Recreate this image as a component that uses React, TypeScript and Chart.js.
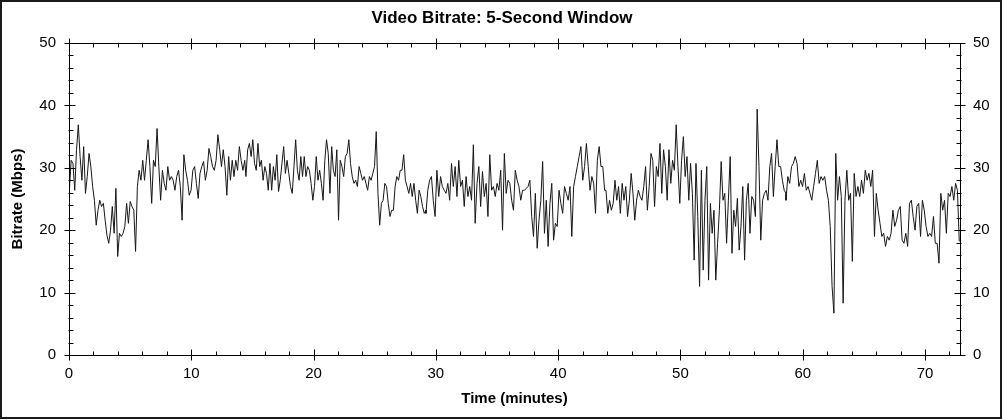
import React, { useEffect, useRef } from "react";
import { Chart, registerables } from "chart.js";

Chart.register(...registerables);

const TITLE = "Video Bitrate: 5-Second Window";
const X_LABEL = "Time (minutes)";
const Y_LABEL = "Bitrate (Mbps)";
const FONT = "'Liberation Sans', Arial, sans-serif";

const X_MIN = 0;
const X_MAX = 72.86;
const Y_MIN = 0;
const Y_MAX = 50;
const X_MAJOR = 10;
const X_MINOR = 2;
const Y_MAJOR = 10;
const Y_MINOR = 2;

// time span (minutes) covered by each run of readings
const SEGMENT_START_MIN = [0.03, 14.47, 29.19, 43.91, 58.63];
const SEGMENT_END_MIN = [14.37, 29.19, 43.8, 58.63, 72.8];

const BITRATE_SEG1 = [
  26.4, 31.2, 30.7, 26.4, 32.9, 36.9, 31.8, 28.0, 33.4, 25.9,
  28.6, 32.3, 30.2, 27.0, 24.8, 20.8, 23.2, 24.8, 23.8, 24.3,
  21.6, 19.2, 17.9, 20.0, 23.8, 19.5, 26.7, 15.8, 19.5, 19.0,
  19.5, 20.6, 24.3, 21.1, 24.6, 23.8, 23.2, 16.6, 27.0, 29.6,
  28.0, 31.2, 28.0, 31.2, 34.5, 30.2, 24.3, 31.2, 30.2, 36.3,
  30.2, 24.8, 29.6, 27.5, 26.4, 30.2, 28.0, 28.6, 28.0, 26.4,
  28.6, 29.6, 27.0, 21.6, 32.1, 29.6, 28.0, 25.6, 26.4, 29.6,
  30.2, 27.5, 25.1, 29.1, 30.2, 31.0, 28.0, 29.6, 33.1, 31.8,
  30.2, 29.6, 31.2, 35.3, 32.9, 30.2, 32.9, 30.2, 25.6, 31.8,
  28.0, 31.2, 28.6, 31.2, 29.6, 33.4, 31.2, 29.6, 31.2,
];

const BITRATE_SEG2 = [
  28.6, 32.9, 33.9, 31.8, 34.5, 30.7, 29.6, 33.9, 30.2, 31.2,
  28.0, 30.2, 29.1, 26.4, 30.7, 26.4, 30.2, 28.0, 32.1, 26.2,
  28.0, 30.7, 33.4, 29.1, 31.2, 29.1, 27.0, 25.9, 30.2, 34.5,
  29.6, 28.0, 31.8, 28.6, 31.8, 28.6, 30.2, 29.6, 27.5, 24.8,
  27.0, 31.8, 28.0, 29.6, 27.5, 24.8, 31.2, 34.5, 32.3, 25.9,
  33.4, 29.6, 28.6, 32.9, 21.6, 31.2, 30.2, 28.6, 31.8, 32.3,
  34.5, 30.7, 28.6, 27.5, 28.0, 27.0, 30.2, 29.1, 28.0, 28.6,
  27.5, 26.4, 28.6, 28.0, 29.1, 30.2, 35.8, 25.9, 20.8, 24.3,
  24.8, 27.5, 27.0, 24.3, 22.2, 23.2, 23.2, 27.0, 28.6, 28.0,
  29.6, 29.6, 32.1, 28.0, 27.0, 25.9, 27.5, 25.4, 27.5, 24.8,
  22.7, 26.4, 25.4, 23.8, 22.7, 23.2,
];

const BITRATE_SEG3 = [
  22.7, 26.4, 28.0, 28.6, 24.8, 22.2, 29.6, 25.4, 28.6, 27.0,
  26.4, 25.9, 27.5, 24.8, 30.7, 27.0, 30.2, 25.4, 31.2, 27.0,
  28.0, 23.8, 28.6, 25.4, 27.0, 24.8, 33.7, 21.1, 27.5, 30.2,
  23.8, 29.4, 25.4, 27.5, 22.2, 32.1, 26.4, 27.0, 25.4, 27.5,
  26.4, 29.6, 20.0, 32.3, 25.9, 28.0, 27.5, 24.8, 23.2, 29.6,
  28.0, 27.0, 24.8, 26.4, 26.4, 26.7, 27.0, 28.0, 22.2, 19.0,
  25.9, 17.1, 21.6, 24.8, 31.0, 19.5, 24.8, 17.4, 24.3, 27.5,
  18.4, 21.1, 20.6, 26.4, 24.3, 22.7, 27.0, 25.9, 24.8, 27.0,
  19.0, 27.0, 28.6, 30.2, 31.8, 33.4, 28.0, 30.2, 33.9, 30.2,
  26.4, 28.6, 27.5, 22.7, 31.2, 33.4, 30.2, 30.2, 26.4,
];

const BITRATE_SEG4 = [
  26.4, 22.7, 24.8, 23.2, 24.3, 28.0, 24.8, 27.0, 22.7, 27.5,
  24.8, 27.0, 22.2, 24.8, 29.1, 25.9, 21.6, 24.8, 26.4, 25.4,
  24.8, 27.0, 30.2, 23.2, 27.0, 32.3, 31.2, 23.8, 30.2, 28.6,
  33.9, 25.9, 32.9, 30.2, 24.8, 32.9, 27.5, 31.2, 29.6, 36.9,
  30.2, 24.3, 31.2, 35.0, 28.6, 31.8, 24.8, 30.7, 25.9, 15.2,
  30.7, 22.2, 11.0, 29.6, 13.6, 24.8, 30.2, 12.0, 24.3, 19.5,
  23.2, 12.0, 17.9, 23.2, 31.0, 24.8, 25.9, 17.9, 24.8, 31.8,
  16.3, 23.2, 20.6, 25.1, 16.8, 20.6, 27.0, 15.2, 24.8, 27.5,
  19.5, 25.4, 24.8, 22.2, 39.4, 30.2, 18.4, 24.8, 25.9, 26.4,
  24.8, 30.2, 32.3, 25.4, 30.2, 34.5, 30.2, 30.2, 28.0, 26.4,
  25.9,
];

const BITRATE_SEG5 = [
  24.8, 28.6, 27.5, 30.2, 30.7, 31.8, 30.7, 27.0, 28.0, 27.0,
  29.1, 26.4, 27.0, 25.9, 24.8, 27.0, 29.1, 31.2, 27.5, 28.6,
  28.0, 28.6, 26.4, 24.8, 20.6, 11.0, 6.7, 32.3, 24.8, 28.6,
  25.4, 8.3, 24.8, 29.6, 24.8, 25.9, 15.0, 29.1, 25.4, 27.0,
  25.4, 28.0, 25.9, 29.6, 28.0, 29.1, 27.0, 29.6, 19.0, 25.9,
  23.2, 21.1, 19.0, 19.5, 17.4, 19.0, 18.4, 19.5, 23.2, 20.6,
  21.6, 23.2, 23.8, 18.4, 17.9, 19.5, 17.4, 24.3, 24.8, 22.2,
  20.0, 23.8, 24.3, 19.0, 24.8, 23.2, 20.6, 19.0, 19.5, 19.0,
  22.2, 17.9, 17.9, 14.7, 25.9, 23.2, 24.8, 19.5, 25.9, 25.4,
  27.0, 24.8, 27.5, 26.4, 18.2,
];

const SEGMENTS = [BITRATE_SEG1, BITRATE_SEG2, BITRATE_SEG3, BITRATE_SEG4, BITRATE_SEG5];

function buildPoints() {
  const pts: { x: number; y: number }[] = [];
  SEGMENTS.forEach((seg, k) => {
    const s = SEGMENT_START_MIN[k];
    const e = SEGMENT_END_MIN[k];
    const n = seg.length;
    seg.forEach((v, i) => {
      pts.push({ x: s + ((e - s) * i) / (n - 1), y: v });
    });
  });
  return pts;
}

const framePlugin = {
  id: "frame",
  beforeDraw(chart: any) {
    const ctx = chart.ctx;
    ctx.save();
    ctx.fillStyle = "#ffffff";
    ctx.fillRect(0, 0, chart.width, chart.height);
    ctx.strokeStyle = "#1a1a1a";
    ctx.lineWidth = 2;
    ctx.strokeRect(1, 1, 1000, 417);
    ctx.restore();
  },
  afterDatasetsDraw(chart: any) {
    const ctx = chart.ctx;
    const { left, right, top, bottom } = chart.chartArea;
    const xs = chart.scales.x;
    const ys = chart.scales.y;
    const L = Math.round(left) + 0.5;
    const R = Math.round(right) + 0.5;
    const T = Math.round(top) + 0.5;
    const B = Math.round(bottom) + 0.5;
    ctx.save();
    ctx.strokeStyle = "#000";
    ctx.lineWidth = 1;
    ctx.beginPath();
    ctx.moveTo(L, T);
    ctx.lineTo(R, T);
    ctx.moveTo(L, B);
    ctx.lineTo(R, B);
    ctx.moveTo(L, T);
    ctx.lineTo(L, B);
    ctx.moveTo(R, T);
    ctx.lineTo(R, B);
    // y ticks
    for (let v = Y_MIN; v <= Y_MAX + 1e-9; v += Y_MINOR) {
      const py = Math.round(ys.getPixelForValue(v)) + 0.5;
      const major = Math.abs(v % Y_MAJOR) < 1e-9;
      if (major) {
        ctx.moveTo(L - 5, py);
        ctx.lineTo(L + 6, py);
        ctx.moveTo(R - 6, py);
        ctx.lineTo(R + 5, py);
      } else {
        ctx.moveTo(L - 1, py);
        ctx.lineTo(L + 4, py);
        ctx.moveTo(R - 4, py);
        ctx.lineTo(R + 1, py);
      }
    }
    // x ticks
    for (let t = X_MIN; t <= X_MAX + 1e-9; t += X_MINOR) {
      const px = Math.round(xs.getPixelForValue(t)) + 0.5;
      const major = Math.abs(t % X_MAJOR) < 1e-9;
      if (major) {
        ctx.moveTo(px, B - 6);
        ctx.lineTo(px, B + 5);
        ctx.moveTo(px, T - 5);
        ctx.lineTo(px, T + 6);
      } else {
        ctx.moveTo(px, B - 4);
        ctx.lineTo(px, B);
        ctx.moveTo(px, T);
        ctx.lineTo(px, T + 4);
      }
    }
    ctx.stroke();
    ctx.restore();
  },
};

export default function App() {
  const ref = useRef<HTMLCanvasElement | null>(null);

  useEffect(() => {
    if (!ref.current) return;
    Chart.defaults.font.family = FONT;
    const tickFont = { family: FONT, size: 15 };
    const chart = new Chart(ref.current, {
      type: "line",
      data: {
        datasets: [
          {
            data: buildPoints(),
            borderColor: "#161616",
            borderWidth: 1,
            pointRadius: 0,
            tension: 0,
            fill: false,
            xAxisID: "x",
            yAxisID: "y",
          },
        ],
      },
      options: {
        responsive: false,
        animation: false,
        layout: { padding: 0 },
        plugins: {
          legend: { display: false },
          tooltip: { enabled: false },
          title: {
            display: true,
            text: TITLE,
            color: "#000",
            font: { family: FONT, size: 17, weight: "bold" },
            padding: { top: 8.3, bottom: 14.3 },
          },
        },
        scales: {
          x: {
            type: "linear",
            position: "bottom",
            min: X_MIN,
            max: X_MAX,
            grid: { display: false, drawTicks: false },
            border: { display: false },
            ticks: {
              stepSize: X_MAJOR,
              includeBounds: false,
              autoSkip: false,
              maxRotation: 0,
              color: "#000",
              font: tickFont,
              padding: 10,
            },
            title: {
              display: true,
              text: X_LABEL,
              color: "#000",
              font: { family: FONT, size: 15, weight: "bold" },
              padding: { top: 0, bottom: 12 },
            },
            afterFit: (s: any) => {
              s.height = 65;
            },
          },
          y: {
            type: "linear",
            position: "left",
            min: Y_MIN,
            max: Y_MAX,
            grid: { display: false, drawTicks: false },
            border: { display: false },
            ticks: { stepSize: Y_MAJOR, color: "#000", font: tickFont, padding: 13 },
            title: {
              display: true,
              text: Y_LABEL,
              color: "#000",
              font: { family: FONT, size: 15, weight: "bold" },
              padding: { top: 9, bottom: 0 },
            },
            afterFit: (s: any) => {
              s.width = 69;
            },
          },
          y2: {
            type: "linear",
            position: "right",
            min: Y_MIN,
            max: Y_MAX,
            grid: { display: false, drawTicks: false },
            border: { display: false },
            ticks: { stepSize: Y_MAJOR, color: "#000", font: tickFont, padding: 13 },
            afterFit: (s: any) => {
              s.width = 44;
            },
          },
        },
      } as any,
      plugins: [framePlugin],
    });
    return () => chart.destroy();
  }, []);

  return (
    <div style={{ position: "fixed", left: 0, top: 0, width: 1004, height: 420, background: "#fff" }}>
      <canvas ref={ref} width={1004} height={420} style={{ display: "block", width: 1004, height: 420 }} />
    </div>
  );
}
